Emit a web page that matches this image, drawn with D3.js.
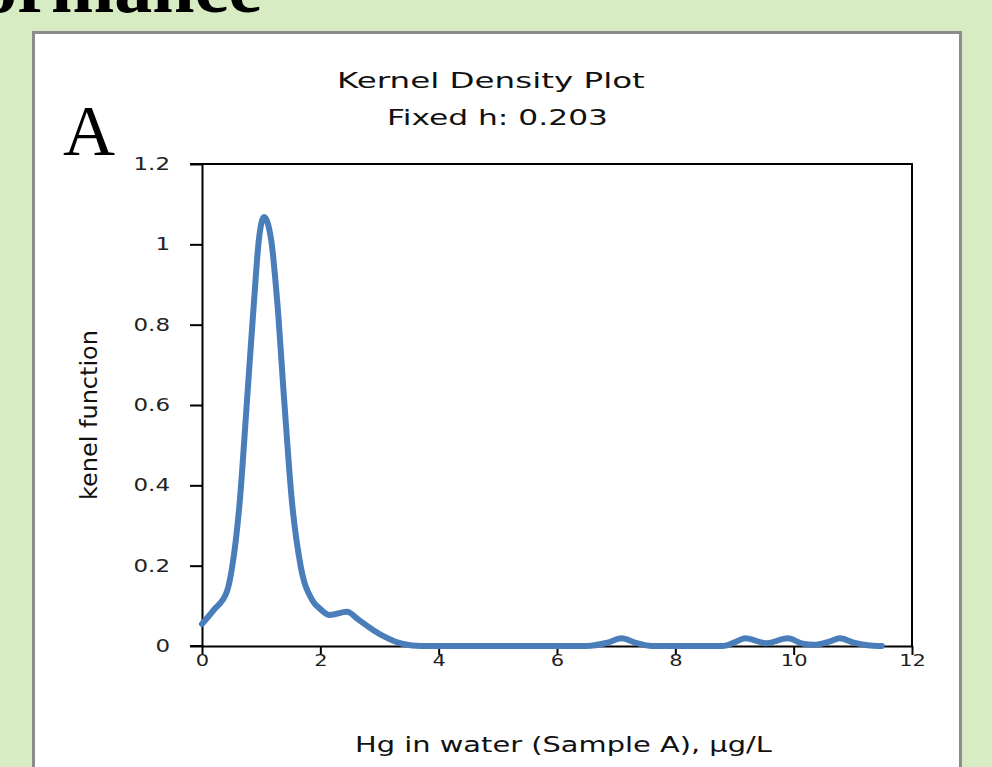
<!DOCTYPE html>
<html>
<head>
<meta charset="utf-8">
<script src="https://cdn.jsdelivr.net/npm/d3@7"></script>
<style>
  body { margin: 0; background: #d8ecc3; }
  svg { display: block; }
</style>
</head>
<body>
<svg width="992" height="767"></svg>
<script>
// curve: Hg concentration (µg/L) vs kernel density
const hgValues = [0, 0.2, 0.42, 0.51, 0.64, 0.76, 0.88, 0.96, 1.05, 1.17, 1.27, 1.39,
    1.52, 1.67, 1.86, 2.0, 2.16, 2.45, 2.65, 2.89, 3.1, 3.4, 3.7, 4.5, 5.5, 6.5,
    6.85, 7.09, 7.33, 7.6, 8.8, 9.0, 9.18, 9.54, 9.9, 10.15, 10.35, 10.6, 10.78,
    11.0, 11.25, 11.49];
const densityValues = [0.055, 0.09, 0.135, 0.197, 0.363, 0.61, 0.86, 1.01, 1.068, 1.01, 0.86, 0.61,
    0.36, 0.197, 0.115, 0.092, 0.077, 0.085, 0.065, 0.04, 0.022, 0.005, 0, 0, 0, 0,
    0.008, 0.019, 0.008, 0, 0, 0.009, 0.019, 0.007, 0.019, 0.006, 0.003, 0.011, 0.019,
    0.009, 0.002, 0];

const xTicks = [0, 2, 4, 6, 8, 10, 12];
const yTicks = [0, 0.2, 0.4, 0.6, 0.8, 1, 1.2];

const titleText = "Kernel Density Plot";
const subtitleText = "Fixed h: 0.203";
const xLabel = "Hg in water (Sample A), \u00b5g/L";
const yLabel = "kenel function";

const svg = d3.select("svg");

const attr = {
    left: 202,
    right: 912,
    top: 164,
    bottom: 646,
    stretch: 1.35
};

// stretch text horizontally so it reaches a given width
function fitText(sel, width) {
    const w = sel.node().getComputedTextLength();
    const k = width / w;
    const x = +sel.attr("x");
    const y = +sel.attr("y");
    sel.attr("x", 0).attr("y", 0)
        .attr("transform", `translate(${x},${y}) scale(${k},1)`);
}

// page heading, mostly cut off at top
svg.append("text")
    .attr("x", 262)
    .attr("y", 12)
    .attr("text-anchor", "end")
    .style("font-family", "'Liberation Serif', 'Times New Roman', serif")
    .style("font-weight", "bold")
    .style("font-size", "76px")
    .text("Performance");

// white panel
svg.append("rect")
    .attr("x", 33.5)
    .attr("y", 32.5)
    .attr("width", 927)
    .attr("height", 800)
    .attr("fill", "white")
    .attr("stroke", "#8c8c8c")
    .attr("stroke-width", 3);

svg.append("text")
    .attr("x", 63)
    .attr("y", 155)
    .style("font-family", "'Liberation Serif', 'Times New Roman', serif")
    .style("font-size", "72px")
    .text("A")
    .call(fitText, 52);

const fontSans = "'DejaVu Sans', Verdana, sans-serif";

svg.append("text")
    .attr("x", 337)
    .attr("y", 88)
    .style("font-family", fontSans)
    .style("font-size", "22px")
    .attr("fill", "#111")
    .text(titleText)
    .call(fitText, 308);

svg.append("text")
    .attr("x", 387)
    .attr("y", 125)
    .style("font-family", fontSans)
    .style("font-size", "22px")
    .attr("fill", "#111")
    .text(subtitleText)
    .call(fitText, 221);

svg.append("text")
    .attr("x", 355)
    .attr("y", 752)
    .style("font-family", fontSans)
    .style("font-size", "21px")
    .attr("fill", "#111")
    .text(xLabel)
    .call(fitText, 417);

const yl = svg.append("text")
    .attr("text-anchor", "middle")
    .style("font-family", fontSans)
    .style("font-size", "18px")
    .attr("fill", "#111")
    .text(yLabel);
const ylw = yl.node().getComputedTextLength();
yl.attr("transform", `translate(97,415) rotate(-90) scale(${170 / ylw},1.3)`);

const scX = d3.scaleLinear().domain([0, 12]).range([attr.left, attr.right]);
const scY = d3.scaleLinear().domain([0, 1.2]).range([attr.bottom, attr.top]);

// frame top and right
svg.append("path")
    .attr("d", `M${attr.left - 12},${attr.top}H${attr.right}V${attr.bottom}`)
    .attr("fill", "none")
    .attr("stroke", "black")
    .attr("stroke-width", 2);

const gx = svg.append("g")
    .attr("transform", `translate(0,${attr.bottom})`)
    .call(d3.axisBottom(scX)
        .tickValues(xTicks)
        .tickSize(9)
        .tickSizeOuter(0)
        .tickFormat(d3.format("~g")));

gx.selectAll(".tick text")
    .attr("y", 0)
    .attr("dy", 0)
    .attr("transform", `translate(0,${666 - attr.bottom}) scale(1.4,1)`)
    .style("font-size", "15px");

const gy = svg.append("g")
    .attr("transform", `translate(${attr.left},0)`)
    .call(d3.axisLeft(scY)
        .tickValues(yTicks)
        .tickSize(12)
        .tickSizeOuter(0)
        .tickFormat(d3.format("~g")));

gy.selectAll(".tick text")
    .attr("x", -32 / attr.stretch)
    .attr("transform", `scale(${attr.stretch},1)`)
    .style("font-size", "17px");

[gx, gy].forEach(g => {
    g.selectAll("path, line")
        .attr("stroke", "black")
        .attr("stroke-width", 2);
    g.selectAll("text")
        .style("font-family", fontSans)
        .attr("fill", "#222");
});

// extend the x axis line left like the zero tick
svg.append("line")
    .attr("x1", attr.left - 12)
    .attr("x2", attr.left)
    .attr("y1", attr.bottom)
    .attr("y2", attr.bottom)
    .attr("stroke", "black")
    .attr("stroke-width", 2);

const pts = hgValues.map((x, i) => ({ x: x, y: densityValues[i] }));

const line = d3.line()
    .x(d => scX(d.x))
    .y(d => scY(d.y))
    .curve(d3.curveMonotoneX);

svg.append("path")
    .datum(pts)
    .attr("fill", "none")
    .attr("stroke", "#4a7ebb")
    .attr("stroke-width", 6)
    .attr("stroke-linejoin", "round")
    .attr("stroke-linecap", "round")
    .attr("d", line);
</script>
</body>
</html>
